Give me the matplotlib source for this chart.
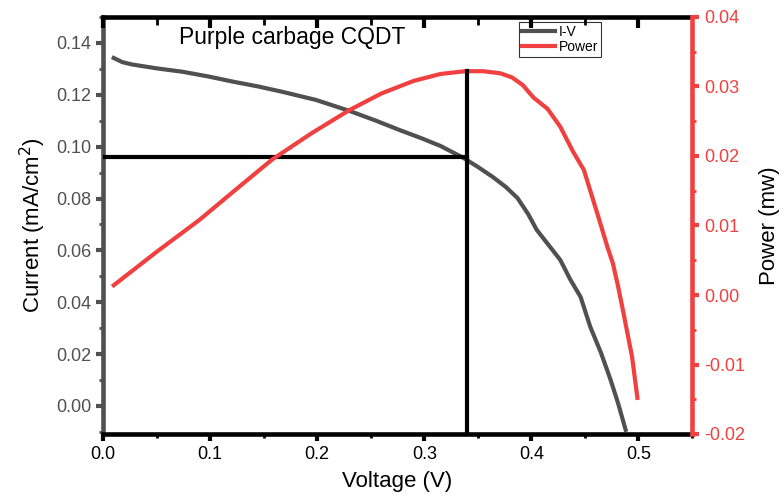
import matplotlib
matplotlib.use("Agg")
from matplotlib import pyplot as plt
from matplotlib.ticker import MultipleLocator, FormatStrFormatter

plt.rcParams["font.family"] = ["Liberation Sans", "DejaVu Sans"]

# I-V curve (voltage in V, current in mA/cm2)
iv_voltage = [0.010, 0.018, 0.027, 0.050, 0.074, 0.098, 0.121, 0.145, 0.168, 0.199,
              0.230, 0.255, 0.277, 0.297, 0.315, 0.336, 0.350, 0.364, 0.376, 0.387,
              0.397, 0.405, 0.420, 0.427, 0.436, 0.446, 0.455, 0.465, 0.474, 0.481, 0.488]
iv_current = [0.1342, 0.1326, 0.1317, 0.1302, 0.1289, 0.1271, 0.1251, 0.1232, 0.1211, 0.1180,
              0.1138, 0.1100, 0.1064, 0.1033, 0.1003, 0.0958, 0.0922, 0.0883, 0.0845, 0.0802,
              0.0740, 0.0679, 0.0600, 0.0563, 0.0490, 0.0420, 0.0305, 0.0205, 0.0100, 0.0010, -0.0092]

# power curve (mW)
p_voltage = [0.010, 0.050, 0.090, 0.125, 0.158, 0.195, 0.230, 0.260, 0.290, 0.315,
             0.338, 0.355, 0.371, 0.382, 0.392, 0.402, 0.415, 0.427, 0.439, 0.449,
             0.455, 0.463, 0.471, 0.476, 0.481, 0.486, 0.494, 0.499]
p_power = [0.0014, 0.0062, 0.0108, 0.0153, 0.0195, 0.0233, 0.0266, 0.0290, 0.0308, 0.0318,
           0.0322, 0.0322, 0.0319, 0.0313, 0.0302, 0.0284, 0.0268, 0.0242, 0.0206, 0.0180,
           0.0150, 0.0110, 0.0069, 0.0046, 0.0012, -0.0026, -0.0089, -0.0148]

# max power point
v_mp = 0.34
i_mp = 0.096
p_mp = 0.0322

gray = "#505050"
red = "#f04040"

fig = plt.figure(figsize=(7.84, 5.0), dpi=100)
ax = fig.add_axes([0.1314, 0.132, 0.7513, 0.834])
ax2 = ax.twinx()

l1, = ax.plot(iv_voltage, iv_current, color=gray, lw=3, label="I-V", zorder=3)
l2, = ax2.plot(p_voltage, p_power, color=red, lw=3, label="Power", zorder=3)

ax.set_xlim(0, 0.55)
ax.set_ylim(-0.0108, 0.15)
ax2.set_ylim(-0.02, 0.04)

# guide lines to the max power point
ax.plot([0, v_mp], [i_mp, i_mp], color="black", lw=3, zorder=4)
ax2.plot([v_mp, v_mp], [-0.02, p_mp], color="black", lw=3, zorder=4)

ax.xaxis.set_major_locator(MultipleLocator(0.1))
ax.xaxis.set_minor_locator(MultipleLocator(0.05))
ax.xaxis.set_major_formatter(FormatStrFormatter("%.1f"))
ax.yaxis.set_major_locator(MultipleLocator(0.02))
ax.yaxis.set_minor_locator(MultipleLocator(0.01))
ax.yaxis.set_major_formatter(FormatStrFormatter("%.2f"))
ax2.yaxis.set_major_locator(MultipleLocator(0.01))
ax2.yaxis.set_minor_locator(MultipleLocator(0.005))
ax2.yaxis.set_major_formatter(FormatStrFormatter("%.2f"))

for side in ["top", "bottom"]:
    ax.spines[side].set_linewidth(3.3)
    ax.spines[side].set_color("black")
ax.spines["left"].set_linewidth(3.3)
ax.spines["left"].set_color(gray)
ax2.spines["right"].set_linewidth(3.3)
ax2.spines["right"].set_color(red)
ax2.spines["left"].set_visible(False)
ax2.spines["top"].set_visible(False)
ax2.spines["bottom"].set_visible(False)

ax.tick_params(axis="x", which="major", direction="out", length=5, width=3,
               labelsize=13, colors="black")
ax.tick_params(axis="x", which="minor", direction="out", length=3, width=2)
ax.tick_params(axis="y", which="major", direction="out", length=5, width=3,
               labelsize=13, colors=gray)
ax.tick_params(axis="y", which="minor", direction="out", length=3, width=2, colors=gray)
ax2.tick_params(axis="y", which="major", direction="out", length=5, width=3,
                labelsize=13, colors=red)
ax2.tick_params(axis="y", which="minor", direction="out", length=3, width=2, colors=red)

# inward ticks on the top spine, drawn by the twin axes' x axis
ax2.xaxis.set_visible(True)
ax2.tick_params(axis="x", which="both", top=True, bottom=False,
                labeltop=False, labelbottom=False, direction="in", colors="black")
ax2.tick_params(axis="x", which="major", length=8, width=3)
ax2.tick_params(axis="x", which="minor", length=6, width=2)

ax.set_xlabel("Voltage (V)", fontsize=16, labelpad=6)
ax.set_ylabel("Current (mA/cm$^2$)", fontsize=16, labelpad=6)
ax2.set_ylabel("Power (mw)", fontsize=16, labelpad=10)

ax.text(0.071, 0.142, "Purple carbage CQDT", fontsize=16.5, ha="left", va="center")

leg = ax.legend(handles=[l1, l2], loc="upper left", bbox_to_anchor=(0.706, 0.988),
                fontsize=10, frameon=True, fancybox=False, edgecolor="black",
                handlelength=2.4, handletextpad=0.3, borderpad=0.2, labelspacing=0.1,
                borderaxespad=0)
leg.get_frame().set_linewidth(0.8)
leg.set_zorder(10)

fig.savefig("out.png", dpi=100)
